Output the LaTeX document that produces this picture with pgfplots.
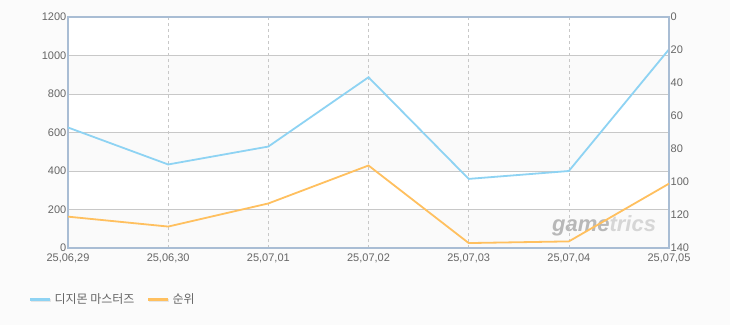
\documentclass[border=0pt]{standalone}
\usepackage{pgfplots}
\pgfplotsset{compat=1.18}
\usepackage{fontspec}
\setmainfont{Liberation Sans}
\newfontfamily\kr{Noto Sans CJK KR}
\definecolor{bg}{HTML}{FBFBFB}
\definecolor{band}{HTML}{FAFAFA}
\definecolor{axisc}{HTML}{A9BDD4}
\definecolor{gridc}{HTML}{C8C8C8}
\definecolor{lblue}{HTML}{8ED3F3}
\definecolor{lorange}{HTML}{FFC05F}
\definecolor{tickc}{HTML}{666666}
\pgfplotsset{common/.style={
  at={(68pt,77pt)}, anchor=south west,
  scale only axis, width=601pt, height=231pt,
  xmin=0, xmax=6}}
\begin{document}
\begin{tikzpicture}[x=1pt,y=1pt]
\fill[bg] (0,0) rectangle (730,325);
\useasboundingbox (0,0) rectangle (730,325);
% background bands
\begin{axis}[common, ymin=0, ymax=1200, hide axis,
  axis background/.style={fill=white}]
\fill[band] (axis cs:0,0) rectangle (axis cs:6,200);
\fill[band] (axis cs:0,400) rectangle (axis cs:6,600);
\fill[band] (axis cs:0,800) rectangle (axis cs:6,1000);
\node[font=\bfseries\itshape\fontsize{22}{24}\selectfont, inner sep=0pt] at (rel axis cs:0.892,0.095)
  {\textcolor{black!28}{game}\textcolor{black!16}{trics}};
\end{axis}
\begin{axis}[common,
  ymin=0, ymax=1200,
  xtick={0,1,2,3,4,5,6},
  xticklabels={{25,06,29},{25,06,30},{25,07,01},{25,07,02},{25,07,03},{25,07,04},{25,07,05}},
  ytick={0,200,400,600,800,1000,1200},
  ytick pos=left, xtick pos=bottom,
  major tick length=0pt,
  scaled y ticks=false,
  /pgf/number format/1000 sep={},
  /pgf/number format/assume math mode=true,
  tick label style={font=\fontsize{11}{13}\selectfont, text=tickc, inner sep=1.5pt},
  xticklabel style={yshift=-4pt},
  axis line style={draw=axisc, line width=1.6pt},
  xmajorgrids, ymajorgrids,
  x grid style={gridc, dashed, line width=0.6pt},
  y grid style={gridc, line width=0.8pt},
  legend columns=2,
  legend style={at={(-0.066,-0.221)}, anchor=west, draw=none, fill=none, inner sep=0pt,
    font=\kr\fontsize{12}{14}\selectfont, text=tickc,
    /tikz/every even column/.append style={column sep=10pt}},
  legend image code/.code={%
    \draw[black!10, line width=3pt] (1pt,-1.5pt) -- (21pt,-1.5pt);
    \draw[#1, line width=3pt] (0pt,0pt) -- (20pt,0pt);},
]
\addplot[lblue, line width=1.8pt] coordinates {
  (0,626) (1,434) (2,527) (3,887) (4,359) (5,400) (6,1032)};
\addlegendentry{디지몬 마스터즈}
\addlegendimage{lorange, line width=1.8pt}
\addlegendentry{순위}
\end{axis}
\begin{axis}[common,
  ymin=0, ymax=140,
  y dir=reverse,
  axis x line=none, axis y line*=right,
  ytick={0,20,40,60,80,100,120,140},
  major tick length=0pt,
  /pgf/number format/assume math mode=true,
  tick label style={font=\fontsize{11}{13}\selectfont, text=tickc, inner sep=1.5pt},
  yticklabel style={anchor=west},
  axis line style={draw=axisc, line width=1.6pt},
]
\addplot[lorange, line width=1.8pt] coordinates {
  (0,121) (1,127) (2,113) (3,90) (4,137) (5,136) (6,101)};
\end{axis}
\end{tikzpicture}
\end{document}
